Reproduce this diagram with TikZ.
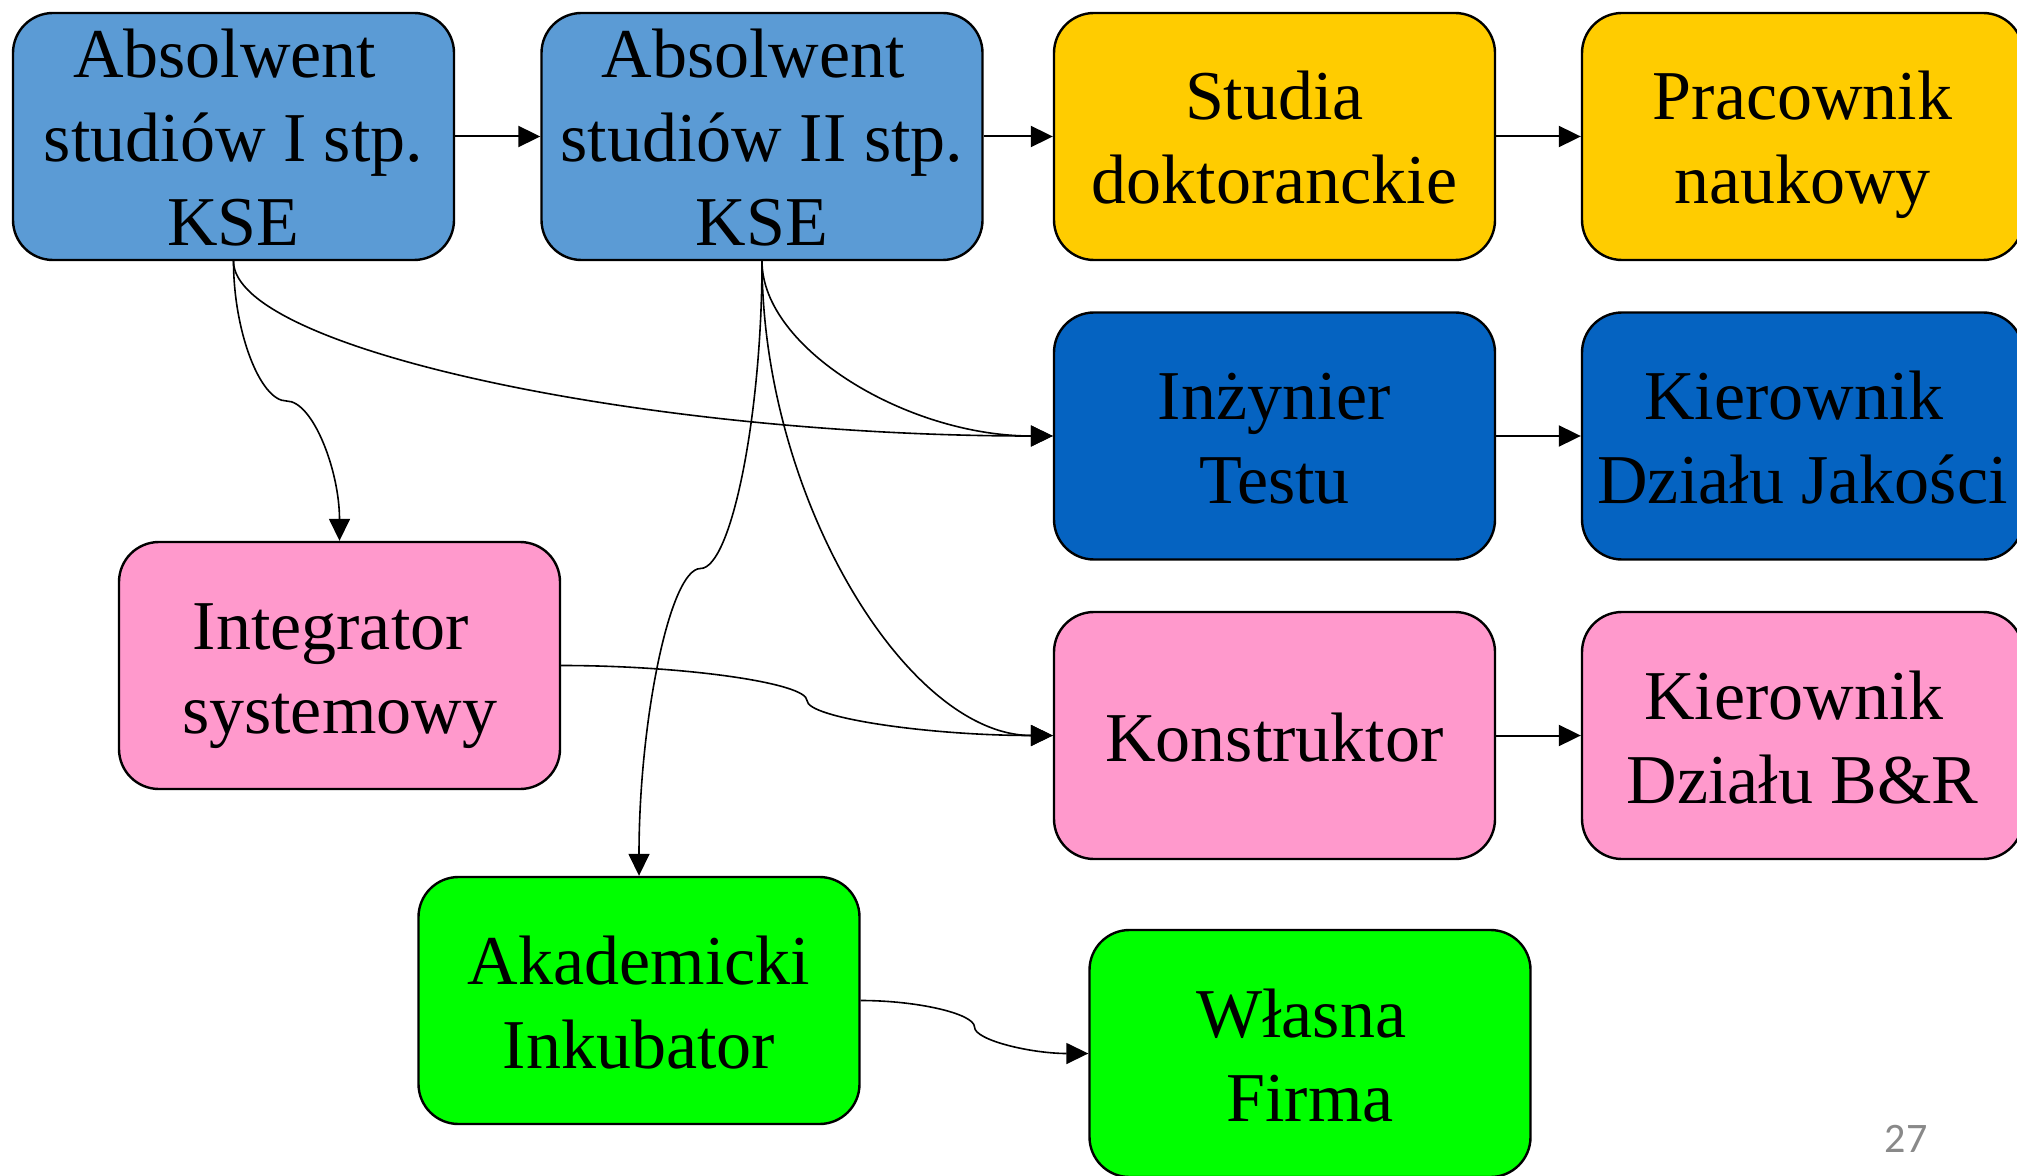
\documentclass[tikz,border=0pt]{standalone}
\usepackage{fontspec}
\setmainfont{Liberation Serif}
\newfontfamily\numfont{Carlito}
\usetikzlibrary{arrows.meta,calc}
\definecolor{cA}{HTML}{5B9BD5}
\definecolor{cY}{HTML}{FFCC00}
\definecolor{cB}{HTML}{0563C1}
\definecolor{cP}{HTML}{FF99CC}
\definecolor{cG}{HTML}{00FF00}
\definecolor{cN}{HTML}{898989}
% struts giving PowerPoint-like line boxes (ascent 33.75pt, descent 8.25pt)
\newcommand\ppstrut{\rule[-8.25pt]{0pt}{42pt}}
% for the three-line boxes whose text overflows: same centre, smaller total
\newcommand\ppstrutb{\rule[-7pt]{0pt}{39.5pt}}
\newcommand\tsp{\kern8.75pt}
\tikzset{
  box/.style={draw=black, line width=1.2pt, rounded corners=20pt,
    minimum width=220.5pt, minimum height=123.5pt, inner sep=0pt,
    align=center, font=\fontsize{35}{42}\selectfont},
  conn/.style={draw=black, line width=1pt, -{Triangle[length=11pt,width=10.5pt]}},
  curv/.style={draw=black, line width=0.8pt, -{Triangle[length=11pt,width=10.5pt]}}
}
\begin{document}
\begin{tikzpicture}[x=0.5pt,y=-0.5pt]
\useasboundingbox (0,0) rectangle (2017,1176);
\node[box, fill=cA] (a1) at (233.5,136.5) {\ppstrutb Absolwent\tsp\\studiów I stp.\\KSE\ppstrutb};
\node[box, fill=cA] (a2) at (762,136.5) {\ppstrutb Absolwent\tsp\\studiów II stp.\\KSE\ppstrutb};
\node[box, fill=cY] (st) at (1274.5,136.5) {\ppstrut Studia\\doktoranckie\ppstrut};
\node[box, fill=cY] (pr) at (1802.5,136.5) {\ppstrut Pracownik\\naukowy\ppstrut};
\node[box, fill=cB] (in) at (1274.5,436) {\ppstrut Inżynier\\Testu\ppstrut};
\node[box, fill=cB] (kj) at (1802.5,436) {\ppstrut Kierownik\tsp\\Działu Jakości\ppstrut};
\node[box, fill=cP] (ig) at (339.5,665.5) {\ppstrut Integrator\tsp\\systemowy\ppstrut};
\node[box, fill=cP] (ko) at (1274.5,735.5) {\ppstrut Konstruktor};
\node[box, fill=cP] (kb) at (1802.5,735.5) {\ppstrut Kierownik\tsp\\Działu B\&R\ppstrut};
\node[box, fill=cG] (ak) at (639,1000.5) {\ppstrut Akademicki\\Inkubator\ppstrut};
\node[box, fill=cG] (wf) at (1310,1053.5) {\ppstrut Własna\tsp\\Firma\ppstrut};
\node[font=\numfont\fontsize{21}{25}\selectfont, text=cN] (num) at (1906,1139) {27};

% straight arrows
\draw[conn] (a1.east) -- (a2.west);
\draw[conn] (a2.east) -- (st.west);
\draw[conn] (st.east) -- (pr.west);
\draw[conn] (in.east) -- (kj.west);
\draw[conn] (ko.east) -- (kb.west);

% a1 -> ig (vertical S-curve)
\coordinate (m1) at ($(a1.south)!0.5!(ig.north)$);
\coordinate (p1) at ($(a1.south)!0.25!(ig.north)$);
\coordinate (r1) at ($(a1.south)!0.75!(ig.north)$);
\draw[curv] (a1.south) .. controls (a1.south |- p1) and (p1 |- m1) .. (m1)
  .. controls (r1 |- m1) and (ig.north |- r1) .. (ig.north);

% a2 -> ak (vertical S-curve)
\coordinate (m2) at ($(a2.south)!0.5!(ak.north)$);
\coordinate (p2) at ($(a2.south)!0.25!(ak.north)$);
\coordinate (r2) at ($(a2.south)!0.75!(ak.north)$);
\draw[curv] (a2.south) .. controls (a2.south |- p2) and (p2 |- m2) .. (m2)
  .. controls (r2 |- m2) and (ak.north |- r2) .. (ak.north);

% a1 -> in (one bend)
\coordinate (m3) at ($(a1.south)!0.5!(in.west)$);
\draw[curv] (a1.south) .. controls (a1.south |- m3) and (m3 |- in.west) .. (in.west);

% a2 -> in (one bend)
\coordinate (m4) at ($(a2.south)!0.5!(in.west)$);
\draw[curv] (a2.south) .. controls (a2.south |- m4) and (m4 |- in.west) .. (in.west);

% a2 -> ko (one bend)
\coordinate (m5) at ($(a2.south)!0.5!(ko.west)$);
\draw[curv] (a2.south) .. controls (a2.south |- m5) and (m5 |- ko.west) .. (ko.west);

% ig -> ko (horizontal S-curve)
\coordinate (m6) at ($(ig.east)!0.5!(ko.west)$);
\coordinate (p6) at ($(ig.east)!0.25!(ko.west)$);
\coordinate (r6) at ($(ig.east)!0.75!(ko.west)$);
\draw[curv] (ig.east) .. controls (p6 |- ig.east) and (m6 |- p6) .. (m6)
  .. controls (m6 |- r6) and (r6 |- ko.west) .. (ko.west);

% ak -> wf (horizontal S-curve)
\coordinate (m7) at ($(ak.east)!0.5!(wf.west)$);
\coordinate (p7) at ($(ak.east)!0.25!(wf.west)$);
\coordinate (r7) at ($(ak.east)!0.75!(wf.west)$);
\draw[curv] (ak.east) .. controls (p7 |- ak.east) and (m7 |- p7) .. (m7)
  .. controls (m7 |- r7) and (r7 |- wf.west) .. (wf.west);
\end{tikzpicture}
\end{document}
